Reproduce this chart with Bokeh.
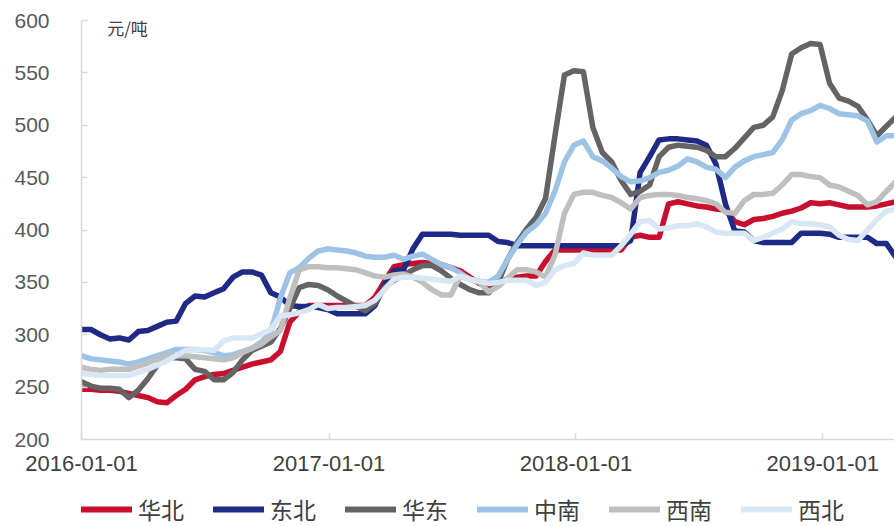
import pandas as pd
from bokeh.plotting import figure
from bokeh.layouts import column
from bokeh.models import (FixedTicker, DatetimeTickFormatter, Legend, LegendItem,
                          Label, Range1d, ColumnDataSource)
from bokeh.embed import file_html
from bokeh.resources import INLINE

# ---- data (biweekly) ----
dates = pd.date_range("2016-01-01", periods=87, freq="14D")

huabei = [248,248,247,247,246,244,242,240,236,235, 242,248,257,260,262,263,266,269,272,274,
          276,284,312,322,328,328,328,328,328,328, 328,336,351,365,367,368,369,368,367,364,
          361,355,349,346,350,353,355,356,356,370, 381,381,381,381,381,381,381,381,393,395,
          393,393,425,427,425,423,422,420,419,408, 405,410,411,413,416,418,421,426,425,426,
          424,422,422,422,423,425,427]
dongbei = [305,305,300,296,297,295,303,304,308,312, 313,330,337,336,340,344,355,360,360,357,
           340,336,328,327,327,326,324,320,320,320, 320,328,348,361,362,382,396,396,396,396,
           395,395,395,395,389,388,385,385,385,385, 385,385,385,385,385,385,385,385,390,455,
           470,486,487,487,486,485,481,463,425,399, 398,390,388,388,388,388,397,397,397,396,
           393,393,393,393,387,387,374]
huadong = [255,251,249,249,248,240,247,258,271,278, 278,277,267,265,257,257,264,276,285,289,
           293,306,325,345,348,347,343,337,332,327, 323,330,345,352,357,362,366,366,361,354,
           348,343,340,340,350,372,388,401,412,430, 490,548,552,551,498,474,465,447,434,437,
           443,470,479,481,480,479,476,470,470,478, 488,498,500,508,533,568,574,578,577,540,
           526,523,518,505,490,499,508]
zhongnan = [280,277,276,275,274,272,274,277,280,283, 286,286,286,285,283,280,281,284,287,293,
            303,335,359,364,373,380,382,381,380,378, 375,374,374,376,372,375,377,372,367,364,
            359,353,351,350,356,372,386,398,405,416, 437,465,481,485,470,466,459,451,446,447,
            450,455,457,461,468,465,460,458,450,460, 466,470,472,474,486,505,511,514,519,516,
            511,510,509,504,484,490,490]
xinan = [269,267,266,267,267,267,270,273,277,280, 280,280,279,278,277,276,278,283,287,291,
         298,304,335,362,365,365,364,364,363,362, 359,356,355,357,358,355,350,343,338,338,
         356,353,350,341,346,354,362,362,360,355, 376,416,434,436,436,433,431,426,420,431,
         433,434,434,433,431,430,428,425,417,416, 428,434,434,435,443,453,453,451,450,443,
         441,437,433,424,427,437,446]
xibei = [263,262,261,261,261,261,264,267,271,275, 280,285,286,286,285,294,297,297,297,301,
         305,318,319,321,324,329,325,326,326,327, 328,333,343,353,355,355,354,353,352,351,
         356,353,351,349,350,352,352,352,347,350, 362,366,368,378,376,376,376,385,396,408,
         409,401,402,404,404,406,403,398,397,397, 397,390,393,397,401,408,406,406,405,403,
         395,391,390,400,410,418,420]

names = ["华北", "东北", "华东", "中南", "西南", "西北"]
series = [huabei, dongbei, huadong, zhongnan, xinan, xibei]
colors = ["#C8102E", "#1F2A86", "#646464", "#9DC3E6", "#BFBFBF", "#D9E7F5"]
tick_dates = ["2016-01-01", "2017-01-01", "2018-01-01", "2019-01-01"]
y_ticks = [200, 250, 300, 350, 400, 450, 500, 550, 600]
unit_label = "元/吨"

src = ColumnDataSource(dict(date=dates, **{f"s{i}": s for i, s in enumerate(series)}))

p = figure(width=894, height=480, x_axis_type="datetime", output_backend="svg",
           toolbar_location=None,
           x_range=Range1d(pd.Timestamp("2016-01-01"), pd.Timestamp("2019-04-17")),
           y_range=Range1d(200, 600),
           min_border_left=79, min_border_right=0, min_border_top=20, min_border_bottom=41)
p.outline_line_color = None
p.grid.visible = False
p.background_fill_color = "white"
p.border_fill_color = "white"

for i, c in enumerate(colors):
    p.line("date", f"s{i}", source=src, line_color=c, line_width=5.5,
           line_join="round", line_cap="round")

# axes
tick_ms = [pd.Timestamp(d).value // 10**6 for d in tick_dates]
p.xaxis.ticker = FixedTicker(ticks=tick_ms)
fmt = "%Y-%m-%d"
p.xaxis.formatter = DatetimeTickFormatter(years=fmt, months=fmt, days=fmt, hours=fmt,
                                          minutes=fmt, seconds=fmt, milliseconds=fmt)
p.yaxis.ticker = FixedTicker(ticks=y_ticks)
for ax in (p.xaxis[0], p.yaxis[0]):
    ax.axis_line_color = "#D9D9D9"
    ax.axis_line_width = 1.5
    ax.major_tick_line_color = "#D9D9D9"
    ax.major_tick_line_width = 1.5
    ax.major_tick_in = 6
    ax.major_tick_out = 0
    ax.minor_tick_line_color = None
p.yaxis.major_label_text_font = "Liberation Sans"
p.yaxis.major_label_text_font_size = "21px"
p.yaxis.major_label_text_color = "#595959"
p.yaxis.major_label_standoff = 32
p.xaxis.major_label_text_font = "Liberation Sans"
p.xaxis.major_label_text_font_size = "22px"
p.xaxis.major_label_text_color = "#404040"
p.xaxis.major_label_standoff = 16

p.add_layout(Label(x=pd.Timestamp("2016-02-08"), y=593, text=unit_label,
                   text_font="Noto Sans CJK SC", text_font_size="17px",
                   text_color="#404040", text_baseline="middle"))

# legend strip below the chart (renderers without visible data carry the legend styling)
pl = figure(width=894, height=46, output_backend="svg", toolbar_location=None,
            x_range=Range1d(0, 1), y_range=Range1d(0, 1),
            x_axis_location=None, y_axis_location=None,
            min_border_left=81, min_border_right=0, min_border_top=0, min_border_bottom=0)
pl.outline_line_color = None
pl.grid.visible = False
pl.background_fill_color = "white"
pl.border_fill_color = "white"
items = []
for n, c in zip(names, colors):
    r = pl.line(x=[float("nan")], y=[float("nan")], line_color=c, line_width=6,
                line_cap="round")
    items.append(LegendItem(label=n, renderers=[r]))
legend = Legend(items=items, orientation="horizontal", location="bottom_left")
legend.label_text_font = "Noto Sans CJK SC"
legend.label_text_font_size = "23px"
legend.label_text_color = "#404040"
legend.glyph_width = 51
legend.label_standoff = 6
legend.spacing = 29
legend.padding = 0
legend.margin = 0
legend.border_line_color = None
legend.background_fill_alpha = 0
pl.add_layout(legend, "center")

layout = column(p, pl, spacing=0)
open("out.html", "w").write(file_html(layout, INLINE))
